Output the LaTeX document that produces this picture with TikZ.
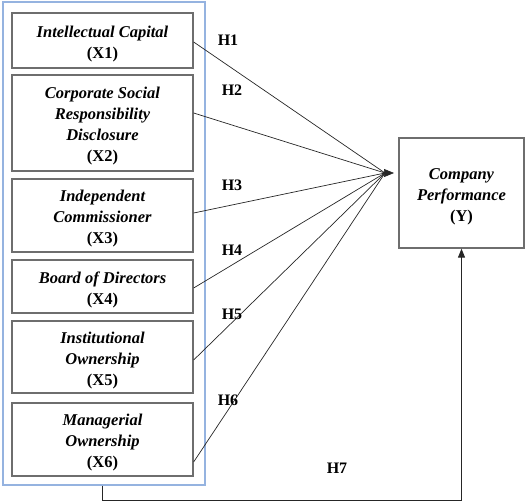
\documentclass[tikz,border=0pt]{standalone}
\usepackage{fontspec}
\setmainfont{Liberation Serif}
\usetikzlibrary{arrows.meta}
\definecolor{boxgray}{HTML}{6E6E6E}
\definecolor{grpblue}{HTML}{95B3E0}
\newcommand{\toppad}{\rule{0pt}{18pt}}
\begin{document}
\begin{tikzpicture}[x=1pt,y=-1pt,
  varbox/.style={draw=boxgray,line width=1.3pt,minimum width=181pt,align=center,
    inner sep=0pt,font=\fontsize{16.5}{21}\selectfont\bfseries},
  hyp/.style={font=\fontsize{16}{18}\selectfont\bfseries,inner sep=0pt},
  link/.style={draw=black!85,line width=0.7pt}]
\useasboundingbox (0,0) rectangle (526,503);
\node[draw=grpblue,line width=1.3pt,minimum width=202pt,minimum height=483pt,inner sep=0pt] (grp) at (104,243.5) {};
\node[varbox,minimum height=55pt] (x1) at (102.5,40.5) {\toppad\itshape Intellectual Capital\\(X1)};
\node[varbox,minimum height=96pt] (x2) at (102.5,123) {\toppad\itshape Corporate Social\\\itshape Responsibility\\\itshape Disclosure\\(X2)};
\node[varbox,minimum height=73pt] (x3) at (102.5,215.5) {\toppad\itshape Independent\\\itshape Commissioner\\(X3)};
\node[varbox,minimum height=53pt] (x4) at (102.5,286.5) {\toppad\itshape Board of Directors\\(X4)};
\node[varbox,minimum height=72pt] (x5) at (102.5,357) {\toppad\itshape Institutional\\\itshape Ownership\\(X5)};
\node[varbox,minimum height=73pt] (x6) at (102.5,439.5) {\toppad\itshape Managerial\\\itshape Ownership\\(X6)};
\node[varbox,minimum width=125pt,minimum height=110pt] (y) at (461.5,193) {\toppad\itshape Company\\\itshape Performance\\(Y)};
\coordinate (hub) at (385,173);
\coordinate (tip) at (394,173);
\draw[link] ([yshift=-1.5pt]x1.east) -- (hub);
\draw[link] ([yshift=10pt]x2.east) -- (hub);
\draw[link] ([yshift=2.5pt]x3.east) -- (hub);
\draw[link] ([yshift=-1.5pt]x4.east) -- (hub);
\draw[link] ([yshift=-3pt]x5.east) -- (hub);
\draw[link] ([yshift=-22.5pt]x6.east) -- (hub);
\draw[link,-{Triangle[length=10pt,width=8pt]}] ([xshift=-2pt]hub) -- (tip);
\draw[link,line width=1pt,-{Triangle[length=9pt,width=7pt]}] ([xshift=-2pt]grp.south) -- ++(0,15) -| (y.south);
\node[hyp] (h1) at (228,40) {H1};
\node[hyp] (h2) at (232,90) {H2};
\node[hyp] (h3) at (232,185) {H3};
\node[hyp] (h4) at (232,250) {H4};
\node[hyp] (h5) at (232,314) {H5};
\node[hyp] (h6) at (228,400) {H6};
\node[hyp] (h7) at (337,468) {H7};
\end{tikzpicture}
\end{document}
